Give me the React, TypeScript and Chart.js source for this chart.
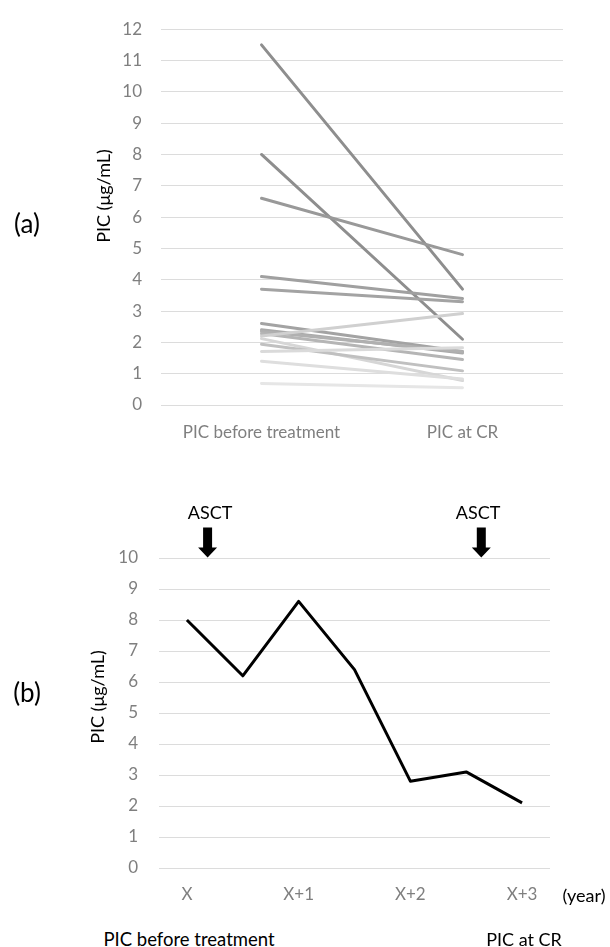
import React, { useEffect, useRef } from "react";
import { Chart, registerables } from "chart.js";

Chart.register(...registerables);

// ---- Data: chart (a) ----
const categoriesA = ["PIC before treatment", "PIC at CR"];
const picBefore = [11.5, 8.0, 6.6, 4.1, 3.7, 2.6, 2.4, 2.35, 2.28, 2.2, 2.12, 1.94, 1.71, 1.4, 0.69];
const picAtCR = [3.7, 2.1, 4.8, 3.4, 3.3, 1.71, 1.66, 1.7, 1.45, 2.92, 0.78, 1.09, 1.83, 0.83, 0.55];
const lineColorsA = [
  "#8e8e8e", "#8e8e8e", "#999999", "#a0a0a0", "#a3a3a3",
  "#a3a3a3", "#aaaaaa", "#b0b0b0", "#b5b5b5", "#d0d0d0",
  "#d6d6d6", "#c0c0c0", "#dadada", "#dedede", "#e6e6e6",
];
const yTicksA = [0, 12];

// ---- Data: chart (b) ----
const categoriesB = ["X", "", "X+1", "", "X+2", "", "X+3"];
const picTimeline = [8.0, 6.2, 8.6, 6.4, 2.8, 3.1, 2.1];
const asctPositions = [0.37, 5.27]; // fractional category index of ASCT arrows
const yTicksB = [0, 10];

const FONT = "Lato, 'Open Sans', sans-serif";
const TICK_COLOR = "#7f7f7f";
const GRID_COLOR = "#dcdcdc";

const arrowPlugin = {
  id: "asctArrows",
  afterDraw(chart: any) {
    const xs = chart.scales.x;
    const top = chart.chartArea.top;
    const ctx = chart.ctx;
    ctx.save();
    ctx.fillStyle = "#000";
    asctPositions.forEach((p) => {
      const x = xs.getPixelForValue(p);
      const tip = top - 0.5;
      ctx.beginPath();
      ctx.moveTo(x - 4.5, tip - 30);
      ctx.lineTo(x + 4.5, tip - 30);
      ctx.lineTo(x + 4.5, tip - 10);
      ctx.lineTo(x + 9.5, tip - 10);
      ctx.lineTo(x, tip);
      ctx.lineTo(x - 9.5, tip - 10);
      ctx.lineTo(x - 4.5, tip - 10);
      ctx.closePath();
      ctx.fill();
    });
    ctx.restore();
  },
};

function ChartA() {
  const ref = useRef<HTMLCanvasElement>(null);
  useEffect(() => {
    const datasets = picBefore.map((b, i) => ({
      label: "P" + (i + 1),
      data: [b, picAtCR[i]],
      borderColor: lineColorsA[i],
      backgroundColor: lineColorsA[i],
      borderWidth: 3,
      borderCapStyle: "round" as const,
      pointRadius: 0,
      tension: 0,
    }));
    // draw darker lines last so they sit on top
    datasets.reverse();
    const chart = new Chart(ref.current!, {
      type: "line",
      data: { labels: categoriesA, datasets },
      options: {
        animation: false,
        responsive: false,
        layout: { padding: { left: 0, right: 47, top: 19, bottom: 0 } },
        plugins: { legend: { display: false }, tooltip: { enabled: false } },
        scales: {
          x: {
            offset: true,
            grid: { display: false, drawTicks: false },
            border: { display: false },
            ticks: { color: TICK_COLOR, font: { family: FONT, size: 17 }, padding: 17, autoSkip: false, maxRotation: 0 },
            afterFit: (s: any) => { s.height = 40; },
          },
          y: {
            min: yTicksA[0],
            max: yTicksA[1],
            grid: { color: GRID_COLOR, lineWidth: 1, drawTicks: false },
            border: { display: false },
            ticks: { stepSize: 1, color: TICK_COLOR, font: { family: FONT, size: 17 }, padding: 19 },
            afterFit: (s: any) => { s.width = 161; },
          },
        },
      },
    });
    return () => chart.destroy();
  }, []);
  return <canvas ref={ref} width={610} height={445} style={{ position: "absolute", left: 0, top: 0, width: 610, height: 445 }} />;
}

function ChartB() {
  const ref = useRef<HTMLCanvasElement>(null);
  useEffect(() => {
    const chart = new Chart(ref.current!, {
      type: "line",
      data: {
        labels: categoriesB,
        datasets: [
          {
            label: "PIC",
            data: picTimeline,
            borderColor: "#000",
            backgroundColor: "#000",
            borderWidth: 3,
            borderJoinStyle: "round" as const,
            pointRadius: 0,
            tension: 0,
          },
        ],
      },
      options: {
        animation: false,
        responsive: false,
        layout: { padding: { left: 0, right: 60, top: 78, bottom: 0 } },
        plugins: { legend: { display: false }, tooltip: { enabled: false } },
        scales: {
          x: {
            offset: true,
            grid: { display: false, drawTicks: false },
            border: { display: false },
            ticks: { color: TICK_COLOR, font: { family: FONT, size: 17 }, padding: 16, autoSkip: false, maxRotation: 0 },
            afterFit: (s: any) => { s.height = 52; },
          },
          y: {
            min: yTicksB[0],
            max: yTicksB[1],
            grid: { color: GRID_COLOR, lineWidth: 1, drawTicks: false },
            border: { display: false },
            ticks: { stepSize: 1, color: TICK_COLOR, font: { family: FONT, size: 17 }, padding: 21 },
            afterFit: (s: any) => { s.width = 159; },
          },
        },
      },
      plugins: [arrowPlugin],
    });
    return () => chart.destroy();
  }, []);
  return <canvas ref={ref} width={610} height={440} style={{ position: "absolute", left: 0, top: 480, width: 610, height: 440 }} />;
}

const txt = (x: number, y: number, s: string, size: number, extra: any = {}) => (
  <div
    style={{
      position: "absolute",
      left: x,
      top: y,
      transform: "translate(-50%, -50%)" + (extra.rotate ? " rotate(-90deg)" : ""),
      whiteSpace: "nowrap",
      fontFamily: FONT,
      fontSize: size,
      color: extra.color || "#000",
      lineHeight: 1,
    }}
  >
    {s}
  </div>
);

export default function App() {
  return (
    <div style={{ position: "absolute", left: 0, top: 0, width: 610, height: 947, background: "#fff", overflow: "hidden" }}>
      <ChartA />
      <ChartB />
      {txt(27, 223, "(a)", 26)}
      {txt(103, 196, "PIC (μg/mL)", 18, { rotate: true })}
      {txt(27, 692, "(b)", 26)}
      {txt(97, 697, "PIC (μg/mL)", 18, { rotate: true })}
      {txt(210, 512, "ASCT", 18)}
      {txt(478, 512, "ASCT", 18)}
      {txt(584, 895, "(year)", 18)}
      {txt(189, 939, "PIC before treatment", 18.5)}
      {txt(524, 939, "PIC at CR", 18)}
    </div>
  );
}
